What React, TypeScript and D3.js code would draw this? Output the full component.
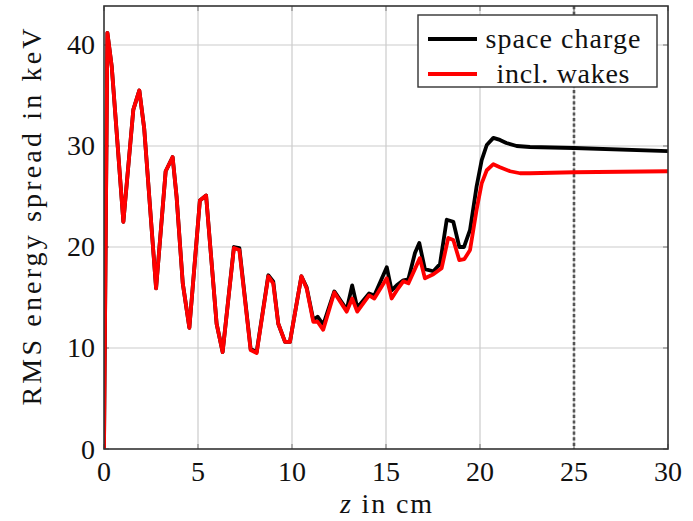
import React from "react";
import * as d3 from "d3";

const zSpace = [0, 0.18, 0.41, 1.03, 1.56, 1.88, 2.14, 2.77, 3.28, 3.65, 3.86, 4.19, 4.54, 5.1, 5.43, 5.99, 6.31, 6.91, 7.2, 7.8, 8.12, 8.74, 9.0, 9.27, 9.63, 9.89, 10.5, 10.78, 11.13, 11.36, 11.66, 12.25, 12.91, 13.2, 13.47, 14.1, 14.38, 15.04, 15.3, 15.57, 15.92, 16.19, 16.54, 16.77, 17.07, 17.52, 17.87, 18.23, 18.58, 18.9, 19.15, 19.47, 19.82, 20.09, 20.36, 20.71, 21.06, 21.4, 21.95, 22.66, 25, 30];
const eSpace = [0, 41.2, 37.9, 22.5, 33.6, 35.5, 31.7, 15.9, 27.5, 28.9, 25.0, 16.4, 12.0, 24.6, 25.1, 12.4, 9.6, 20.0, 19.9, 9.9, 9.6, 17.2, 16.6, 12.4, 10.6, 10.6, 17.1, 16.0, 12.8, 13.1, 12.3, 15.6, 13.8, 16.2, 14.0, 15.4, 15.2, 18.0, 15.7, 16.2, 16.7, 16.8, 19.4, 20.4, 17.8, 17.6, 18.3, 22.7, 22.5, 20.0, 20.0, 21.7, 26.0, 28.6, 30.1, 30.8, 30.6, 30.3, 30.0, 29.9, 29.8, 29.5];

const zWakes = [0, 0.18, 0.41, 1.03, 1.56, 1.88, 2.14, 2.77, 3.28, 3.65, 3.86, 4.19, 4.54, 5.1, 5.43, 5.99, 6.31, 6.91, 7.2, 7.8, 8.12, 8.74, 9.0, 9.27, 9.63, 9.89, 10.5, 10.78, 11.13, 11.36, 11.66, 12.25, 12.91, 13.2, 13.47, 14.1, 14.38, 15.04, 15.3, 15.57, 15.92, 16.19, 16.8, 17.07, 17.52, 17.96, 18.31, 18.58, 18.9, 19.17, 19.47, 19.82, 20.09, 20.36, 20.71, 21.06, 21.6, 22.13, 22.66, 25, 30];
const eWakes = [0, 41.2, 37.9, 22.5, 33.6, 35.5, 31.7, 15.9, 27.5, 28.9, 25.0, 16.4, 12.0, 24.6, 25.1, 12.4, 9.6, 19.9, 19.7, 9.8, 9.5, 17.1, 16.4, 12.4, 10.6, 10.6, 17.1, 15.9, 12.6, 12.6, 11.8, 15.5, 13.6, 14.9, 13.6, 15.2, 14.9, 16.9, 14.9, 15.7, 16.6, 16.4, 18.9, 16.9, 17.3, 17.9, 20.9, 20.7, 18.7, 18.8, 19.7, 23.7, 26.3, 27.6, 28.2, 27.9, 27.5, 27.3, 27.3, 27.4, 27.5];

const xTicks = [0, 5, 10, 15, 20, 25, 30];
const yTicks = [0, 10, 20, 30, 40];
const markerZ = 25;
const legendLabels = ["space charge", "incl. wakes"];
const seriesColors = ["#000000", "#ff0000"];

const FONT = "'Liberation Serif', 'Times New Roman', serif";

export default function App() {
  const W = 693, H = 521;
  const left = 104, right = 668, top = 6, bottom = 449;
  const x = d3.scaleLinear().domain([0, 30]).range([left, right]);
  const y = d3.scaleLinear().domain([0, 43.86]).range([bottom, top]);

  const line = d3.line<[number, number]>().x(d => x(d[0])).y(d => y(d[1]));
  const dSpace = line(zSpace.map((z, i) => [z, eSpace[i]] as [number, number])) || "";
  const dWakes = line(zWakes.map((z, i) => [z, eWakes[i]] as [number, number])) || "";

  const legX = 418, legY = 15, legW = 239, legH = 72;
  const rowY = [39, 74];
  const fs = 28;

  const textStyle = { fontFamily: FONT } as React.CSSProperties;

  return (
    <svg width={W} height={H} style={{ position: "absolute", left: 0, top: 0, background: "#fff" }}>
      <rect x={0} y={0} width={W} height={H} fill="#fff" />
      <defs>
        <clipPath id="plotclip">
          <rect x={left} y={top} width={right - left} height={bottom - top} />
        </clipPath>
      </defs>
      {xTicks.filter(t => t > 0 && t < 30).map(t => (
        <line key={"gx" + t} x1={x(t)} x2={x(t)} y1={top} y2={bottom} stroke="#cccccc" strokeWidth={1.2} />
      ))}
      {yTicks.filter(t => t > 0).map(t => (
        <line key={"gy" + t} x1={left} x2={right} y1={y(t)} y2={y(t)} stroke="#cccccc" strokeWidth={1.2} />
      ))}
      {xTicks.map(t => (
        <g key={"tx" + t}>
          <line x1={x(t)} x2={x(t)} y1={bottom} y2={bottom - 5} stroke="#888" strokeWidth={1.2} />
          <line x1={x(t)} x2={x(t)} y1={top} y2={top + 5} stroke="#888" strokeWidth={1.2} />
        </g>
      ))}
      {yTicks.map(t => (
        <g key={"ty" + t}>
          <line x1={left} x2={left + 5} y1={y(t)} y2={y(t)} stroke="#888" strokeWidth={1.2} />
          <line x1={right} x2={right - 5} y1={y(t)} y2={y(t)} stroke="#888" strokeWidth={1.2} />
        </g>
      ))}
      <line x1={x(markerZ)} x2={x(markerZ)} y1={top} y2={bottom} stroke="#555" strokeWidth={2.6} strokeDasharray="3.2 2.4" />
      <g clipPath="url(#plotclip)">
        <path d={dSpace} fill="none" stroke={seriesColors[0]} strokeWidth={3.8} strokeLinejoin="round" />
        <path d={dWakes} fill="none" stroke={seriesColors[1]} strokeWidth={3.8} strokeLinejoin="round" />
      </g>
      <rect x={left} y={top} width={right - left} height={bottom - top} fill="none" stroke="#333" strokeWidth={1.6} />
      {xTicks.map(t => (
        <text key={"lx" + t} x={x(t)} y={481} textAnchor="middle" style={textStyle} fontSize={fs} fill="#111">{t}</text>
      ))}
      {yTicks.map(t => (
        <text key={"ly" + t} x={95} y={y(t) + 9.5} textAnchor="end" style={textStyle} fontSize={fs} fill="#111">{t}</text>
      ))}
      <text x={386} y={513} textAnchor="middle" style={textStyle} fontSize={fs} fill="#111" textLength={92} lengthAdjust="spacing">
        <tspan fontStyle="italic">z</tspan> in cm
      </text>
      <text transform={`translate(41,217) rotate(-90)`} textAnchor="middle" style={textStyle} fontSize={fs} fill="#111" textLength={377} lengthAdjust="spacing">
        RMS energy spread in keV
      </text>
      <rect x={legX} y={legY} width={legW} height={legH} fill="#fff" stroke="#333" strokeWidth={1.4} />
      {legendLabels.map((lab, i) => (
        <g key={lab}>
          <line x1={428} x2={477} y1={rowY[i]} y2={rowY[i]} stroke={seriesColors[i]} strokeWidth={3.8} />
          <text x={563} y={rowY[i] + 8.5} textAnchor="middle" style={textStyle} fontSize={fs} fill="#111" textLength={i === 0 ? 155 : 133} lengthAdjust="spacing">{lab}</text>
        </g>
      ))}
    </svg>
  );
}
